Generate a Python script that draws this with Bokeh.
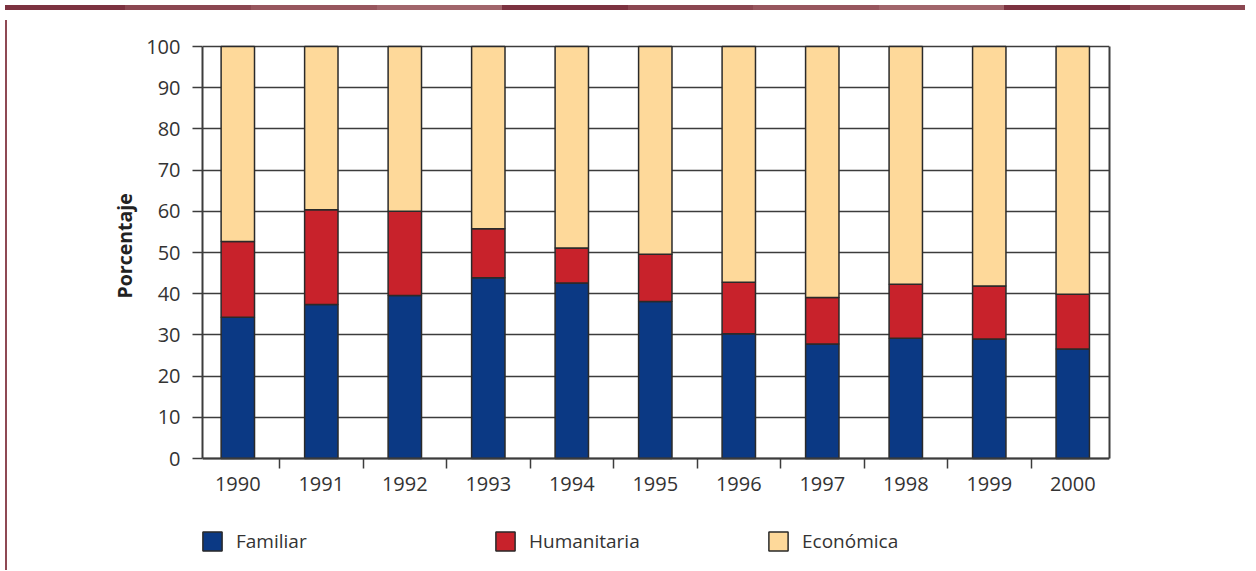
from bokeh.plotting import figure
from bokeh.models import (Range1d, FixedTicker, Legend, LegendItem, ColumnDataSource, Div,
                          LinearAxis, Title)
from bokeh.layouts import column, row
from bokeh.embed import file_html
from bokeh.resources import INLINE

years = ["1990", "1991", "1992", "1993", "1994", "1995", "1996", "1997", "1998", "1999", "2000"]
familiar = [34.3, 37.4, 39.6, 43.9, 42.6, 38.1, 30.3, 27.8, 29.2, 29.0, 26.6]
humanitaria = [18.4, 23.0, 20.4, 11.9, 8.5, 11.5, 12.5, 11.3, 13.1, 12.9, 13.3]
economica = [47.3, 39.6, 40.0, 44.2, 48.9, 50.4, 57.2, 60.9, 57.7, 58.1, 60.1]
series = ["Familiar", "Humanitaria", "Económica"]
colors = ["#0b3984", "#c8222b", "#fed99a"]
y_ticks = [0, 10, 20, 30, 40, 50, 60, 70, 80, 90, 100]

FONT = "Open Sans"
GRID = "#3c3c3c"

xpos = list(range(len(years)))
src = ColumnDataSource(dict(x=xpos, familiar=familiar, humanitaria=humanitaria, economica=economica))

# frame extends below the value axis to hold the legend; axes are bounded to 0..100
p = figure(width=1238, height=550, output_backend="svg", toolbar_location=None,
           x_range=Range1d(-0.423, 10.44), y_range=Range1d(-25.24, 100.5),
           min_border_left=190, min_border_right=141, min_border_top=29, min_border_bottom=3)
p.background_fill_color = "white"
p.border_fill_color = "white"
p.outline_line_color = None

rs = p.vbar_stack(["familiar", "humanitaria", "economica"], x="x", width=0.4, source=src,
                  fill_color=colors, line_color="#2a2a2a", line_width=1.5)

# y axis (left)
p.yaxis.ticker = FixedTicker(ticks=y_ticks)
p.yaxis.bounds = (0, 100)
p.yaxis.major_tick_out = 10
p.yaxis.major_tick_in = 0
p.yaxis.minor_tick_line_color = None
p.yaxis.major_tick_line_color = GRID
p.yaxis.major_tick_line_width = 1.5
p.yaxis.axis_line_color = GRID
p.yaxis.axis_line_width = 2
p.yaxis.major_label_standoff = 12
p.yaxis.major_label_text_font = FONT
p.yaxis.major_label_text_font_size = "20px"
p.yaxis.major_label_text_color = "#333333"

# right edge of the plot box
right_axis = LinearAxis(ticker=FixedTicker(ticks=[]), bounds=(0, 100), axis_line_color=GRID,
                        axis_line_width=2, major_tick_line_color=None, minor_tick_line_color=None)
p.add_layout(right_axis, "right")

# x axis fixed at y = 0
p.xaxis.fixed_location = 0
p.xaxis.ticker = FixedTicker(ticks=xpos, minor_ticks=[i + 0.5 for i in range(len(years) - 1)])
p.xaxis.major_label_overrides = {i: y for i, y in zip(xpos, years)}
p.xaxis.major_tick_out = 0
p.xaxis.major_tick_in = 0
p.xaxis.major_tick_line_color = None
p.xaxis.minor_tick_out = 10
p.xaxis.minor_tick_in = 0
p.xaxis.minor_tick_line_color = GRID
p.xaxis.minor_tick_line_width = 1.5
p.xaxis.axis_line_color = GRID
p.xaxis.axis_line_width = 2
p.xaxis.major_label_standoff = 8
p.xaxis.major_label_text_font = FONT
p.xaxis.major_label_text_font_size = "20px"
p.xaxis.major_label_text_color = "#333333"

p.xgrid.grid_line_color = None
p.ygrid.ticker = FixedTicker(ticks=y_ticks)
p.ygrid.grid_line_color = GRID
p.ygrid.grid_line_width = 1.5

ytitle = Title(text="Porcentaje", align="left", offset=264, text_font=FONT,
               text_font_style="bold", text_font_size="19.5px", text_color="#222222", standoff=11)
p.add_layout(ytitle, "left")

legend_style = dict(padding=0, margin=0, border_line_color=None, background_fill_alpha=0,
                    glyph_width=24, glyph_height=24, label_height=24, label_standoff=12,
                    label_text_font=FONT, label_text_font_size="19px", label_text_color="#333333",
                    spacing=0)
legend_x = [-2, 291, 564]
for r, name, lx in zip(rs, series, legend_x):
    lg = Legend(items=[LegendItem(label=name, renderers=[r])], location=(lx, 8), **legend_style)
    p.add_layout(lg, "center")

strip_bounds = [0, 120, 246, 372, 497, 623, 748, 874, 999, 1125, 1240]
strip_cols = ["#7c3240", "#8b4751", "#97565e", "#a1656b", "#7c3240", "#8b4751", "#97565e", "#a1656b", "#7c3240", "#8b4751"]
stops = []
for c, a, b in zip(strip_cols, strip_bounds[:-1], strip_bounds[1:]):
    stops.append(f"{c} {a}px")
    stops.append(f"{c} {b}px")
strip = Div(text="", width=1240, height=5,
            styles={"background": "linear-gradient(to right, " + ", ".join(stops) + ")"})
left_border = Div(text="", width=2, height=550, styles={"background-color": "#8e4954"})

layout = column(strip, row(left_border, p, spacing=0), spacing=0)

open("out.html", "w").write(file_html(layout, INLINE))
